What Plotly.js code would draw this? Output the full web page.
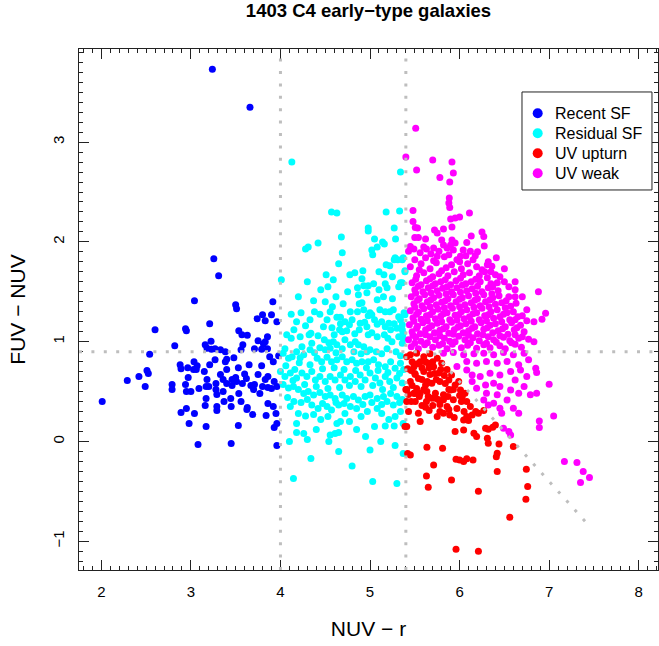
<!DOCTYPE html>
<html>
<head>
<meta charset="utf-8">
<script src="https://cdn.plot.ly/plotly-3.0.1.min.js"></script>
<style>html,body{margin:0;padding:0;background:#fff;}#chart{width:659px;height:646px;}</style>
</head>
<body>
<div id="chart"></div>
<script>
// ---- data ----
const groupNames = ["Recent SF", "Residual SF", "UV upturn", "UV weak"];
const groupColors = ["#0000FF", "#00FFFF", "#FF0000", "#FF00FF"];

const recentSF_x = [3.24,3.66,3.256,3.31,3.04,3.50,3.51,3.915,3.80,3.90,3.74,3.83,3.96,2.60,2.94,2.95,3.21,3.535,3.57,3.63,3.855,3.75,3.83,3.225,2.82,3.16,3.18,3.23,3.27,3.33,3.385,3.56,3.58,3.71,3.79,3.855,3.81,2.54,3.88,3.92,3.98,3.27,3.385,3.40,3.48,3.035,3.07,3.06,3.03,2.88,2.89,2.965,3.21,3.53,3.65,3.79,3.15,2.51,2.525,2.42,2.29,2.49,2.97,3.18,3.17,3.20,3.28,3.33,3.36,3.40,3.46,3.50,3.51,3.60,3.62,3.575,3.67,3.71,3.75,3.83,3.86,3.80,3.86,3.90,3.93,3.96,2.79,2.79,2.94,2.95,3.00,3.09,3.17,3.28,3.29,3.37,3.445,3.535,3.56,3.625,3.63,3.69,3.45,3.29,3.29,3.16,2.95,2.89,3.04,2.98,3.17,3.53,3.86,3.92,3.95,3.84,3.96,3.93,2.01,3.08,3.45,3.96,3.40,3.46,3.70,3.77,3.36];
const recentSF_y = [3.73,3.35,1.83,1.66,1.41,1.37,1.33,1.40,1.27,1.27,1.23,1.21,1.20,1.12,1.13,1.11,1.18,1.11,1.07,1.065,1.05,1.01,1.00,1.005,0.96,0.97,0.935,0.925,0.93,0.92,0.90,0.92,0.97,0.93,0.925,0.93,0.98,0.875,0.85,0.80,0.86,0.82,0.80,0.825,0.84,0.80,0.76,0.72,0.72,0.77,0.73,0.74,0.77,0.74,0.77,0.76,0.70,0.71,0.68,0.65,0.61,0.55,0.64,0.62,0.55,0.55,0.58,0.67,0.62,0.58,0.62,0.64,0.60,0.675,0.63,0.58,0.56,0.57,0.67,0.62,0.65,0.55,0.54,0.53,0.60,0.55,0.57,0.52,0.57,0.50,0.50,0.53,0.43,0.52,0.47,0.40,0.43,0.48,0.40,0.32,0.34,0.27,0.35,0.35,0.31,0.36,0.33,0.29,0.28,0.18,0.15,0.16,0.38,0.35,0.28,0.26,0.18,0.14,0.40,-0.03,-0.02,-0.04,0.72,0.56,0.52,0.48,0.50];

const residualSF_x = [4.127,5.34,4.57,4.63,5.18,5.33,4.98,4.98,5.27,4.68,4.42,4.28,4.31,5.05,5.08,5.02,5.03,5.14,5.16,5.285,4.69,5.28,5.31,5.36,5.27,5.18,5.22,5.39,4.01,4.51,4.59,4.53,4.775,4.83,4.91,4.92,5.155,4.86,4.93,4.98,5.04,5.17,5.19,5.32,5.34,
4.87,4.965,4.37,4.91,4.88,4.93,4.86,5.00,5.02,4.98,5.11,5.17,5.22,5.26,5.32,5.39,4.12,4.23,4.38,4.44,4.555,4.63,4.67,4.72,4.77,4.575,4.66,4.69,4.74,4.67,4.89,4.94,4.965,4.98,5.08,5.13,5.17,5.21,5.23,5.27,5.30,5.34,5.36,5.02,5.08,5.16,5.20,5.245,5.32,5.36,4.07,4.12,4.34,4.32,4.35,4.49,4.54,4.59,4.63,4.555,4.50,4.72,4.78,4.835,4.87,4.93,4.965,5.00,4.33,4.26,4.03,4.09,4.13,4.41,4.46,4.52,4.57,4.63,4.69,4.74,4.80,4.85,4.91,5.04,5.095,5.17,5.23,5.28,5.34,5.375,4.00,4.05,4.11,4.16,4.18,4.24,4.295,4.35,4.39,4.44,4.50,4.555,4.61,4.67,4.72,4.78,4.835,4.89,4.945,5.00,5.06,5.11,5.17,5.22,5.30,5.36,4.03,4.09,4.145,4.20,4.26,4.31,4.37,4.44,4.50,4.555,4.61,4.69,4.74,4.815,4.87,4.945,5.00,5.08,5.15,5.23,5.30,4.11,4.35,4.42,4.52,4.57,4.65,4.78,4.85,5.08,5.26,4.28,4.63,4.67,4.77,5.17,5.27,5.28,4.18,4.18,4.26,4.555,4.61,4.65,4.10,4.54,4.65,5.00,5.28,4.34,4.80,4.145,5.03,5.30,5.37,5.36,5.37,5.37,5.39,5.36,5.38,5.36,5.37,5.37,
4.06,4.14,4.21,4.27,4.33,4.40,4.47,4.53,4.60,4.66,4.71,4.77,4.84,4.90,4.96,5.03,5.09,5.14,5.20,5.26,5.33,
4.08,4.15,4.23,4.30,4.47,4.62,4.71,4.92,5.02,5.13,5.19,5.33,
4.05,4.18,4.24,4.38,4.44,4.62,4.69,4.82,4.90,5.07,5.13,5.19,5.29,5.34,4.98,4.22,
4.15,4.22,4.28,4.42,4.48,4.60,4.83,4.88,4.80,5.05,4.52,4.33,4.18,
4.20,4.37,4.45,4.53,4.72,4.90,4.97,5.13,5.21,5.34,4.40,4.85,5.05,4.95,4.30,5.12,
4.50,4.62,4.70,4.75,4.58,4.20,4.45,4.78,5.08,5.15,5.25,5.10,4.30,4.65,5.10,5.25];
const residualSF_y = [2.80,2.70,2.30,2.29,2.30,2.31,2.14,2.11,2.14,2.05,1.99,1.93,1.95,2.03,1.95,1.92,1.87,2.00,1.98,2.03,1.89,1.84,1.82,1.82,1.82,1.77,1.76,1.71,1.62,1.67,1.62,1.55,1.67,1.69,1.63,1.71,1.67,1.54,1.56,1.56,1.58,1.58,1.54,1.55,1.59,
1.47,1.49,1.41,1.39,1.38,1.32,1.30,1.29,1.27,1.26,1.32,1.30,1.30,1.32,1.25,1.27,1.275,1.29,1.30,1.275,1.30,1.245,1.245,1.20,1.17,1.14,1.12,1.10,1.11,1.18,1.185,1.195,1.15,1.07,1.175,1.20,1.15,1.185,1.12,1.18,1.135,1.22,1.12,1.09,1.05,1.07,1.035,1.00,1.05,0.985,1.07,1.035,1.085,1.07,0.985,1.02,0.99,1.00,0.97,0.935,0.92,1.02,0.97,1.00,0.97,0.95,0.90,0.92,0.92,0.87,0.885,0.835,0.85,0.835,0.80,0.845,0.80,0.82,0.85,0.80,0.82,0.785,0.80,0.82,0.77,0.75,0.80,0.735,0.785,0.72,0.70,0.65,0.685,0.72,0.635,0.685,0.65,0.70,0.615,0.65,0.60,0.65,0.615,0.665,0.615,0.65,0.60,0.665,0.615,0.685,0.635,0.585,0.65,0.60,0.635,0.585,0.57,0.535,0.55,0.52,0.48,0.50,0.465,0.49,0.45,0.465,0.43,0.465,0.43,0.45,0.415,0.45,0.465,0.43,0.45,0.48,0.45,0.35,0.365,0.33,0.35,0.315,0.365,0.35,0.33,0.33,0.365,0.255,0.18,0.20,0.20,0.155,0.155,0.25,0.18,0.09,0.08,0.065,0.08,0.09,0.00,0.00,-0.10,-0.085,-0.04,-0.17,-0.245,-0.37,-0.40,-0.42,-0.12,0.42,0.18,1.84,1.70,1.59,1.29,1.17,1.085,1.035,
0.76,0.61,0.79,0.57,0.77,0.55,0.73,0.53,0.74,0.54,0.72,0.56,0.71,0.55,0.74,0.56,0.71,0.52,0.69,0.54,0.68,
0.44,0.40,0.39,0.42,0.38,0.39,0.38,0.37,0.39,0.37,0.40,0.39,
0.93,0.90,0.95,0.89,0.94,0.89,0.93,0.90,0.88,0.90,0.88,0.93,0.90,0.86,0.80,0.84,
1.12,1.05,1.16,1.06,1.15,1.07,1.08,1.12,1.22,1.22,1.22,1.22,1.20,
0.28,0.27,0.22,0.25,0.28,0.25,0.30,0.28,0.22,0.30,0.12,0.12,0.15,0.05,0.02,0.00,
1.40,1.45,1.38,1.50,1.35,1.45,1.52,1.30,1.42,1.45,1.43,1.52,1.60,1.78,1.70,1.65];

const uvUpturn_x = [5.45,5.52,5.60,5.67,5.75,5.56,5.65,5.49,5.71,5.80,5.86,5.77,5.67,5.60,5.505,5.45,5.41,5.52,5.62,5.69,5.78,5.88,5.95,6.01,5.90,5.82,5.73,5.635,5.56,5.49,6.03,5.93,5.82,5.73,6.08,6.06,5.99,5.91,5.505,5.43,5.54,5.62,5.69,5.56,5.78,5.82,5.89,5.41,6.27,6.21,6.14,6.08,6.045,6.10,5.95,6.045,6.16,6.19,6.29,6.32,6.37,6.40,6.31,6.32,6.44,6.60,5.635,5.81,5.45,5.71,5.96,6.00,6.045,6.08,6.15,6.42,6.41,6.42,6.745,5.63,5.91,5.65,6.76,6.21,6.74,6.56,5.96,6.21,5.41,5.42,5.40,5.43,5.41,5.39,5.42,5.50,5.58,5.66,5.74,5.83,5.47,5.55,5.63,5.70,5.78,5.86,5.97,6.02,5.47,5.58,5.88,5.65,
5.53,5.62,5.70,5.46,5.54,5.64,5.72,5.79,5.84,5.93,6.00,5.87,5.76,5.60,5.50,5.46,5.58,5.66,5.75,5.88,5.94,6.12,6.18,6.05];
const uvUpturn_y = [0.87,0.885,0.85,0.88,0.835,0.80,0.785,0.75,0.75,0.785,0.72,0.685,0.67,0.70,0.67,0.60,0.52,0.53,0.567,0.584,0.60,0.617,0.567,0.517,0.517,0.467,0.483,0.50,0.483,0.483,0.45,0.417,0.417,0.433,0.40,0.483,0.60,0.667,0.40,0.30,0.283,0.343,0.433,0.20,0.30,0.283,0.266,0.15,0.31,0.283,0.266,0.25,0.216,0.21,0.10,0.116,0.082,0.05,0.132,0.122,0.142,0.166,0.032,-0.018,-0.025,-0.05,-0.058,-0.068,-0.135,-0.235,-0.179,-0.185,-0.20,-0.172,-0.185,-0.118,-0.152,-0.30,-0.279,-0.346,-0.386,-0.46,-0.45,-0.50,-0.58,-0.76,-1.08,-1.10,0.85,0.73,0.52,0.47,0.40,0.15,-0.12,0.68,0.62,0.74,0.62,0.66,0.56,0.45,0.40,0.36,0.37,0.35,0.33,0.40,0.80,0.74,0.52,0.45,
0.78,0.80,0.80,0.71,0.63,0.60,0.68,0.72,0.58,0.52,0.46,0.45,0.42,0.52,0.48,0.40,0.36,0.31,0.25,0.32,0.24,0.35,0.30,0.30];

const uvWeak_x = [5.51,5.40,5.70,5.915,5.93,5.89,5.78,5.52,5.885,5.88,5.89,5.48,6.11,5.90,5.95,6.00,5.48,5.505,5.53,5.915,5.82,5.72,5.75,6.25,6.27,6.13,5.50,5.54,5.62,5.80,5.82,5.915,5.90,5.95,6.08,6.04,6.12,6.175,6.275,6.41,5.45,5.49,5.43,5.56,5.63,5.71,5.77,5.86,5.88,5.93,6.01,5.75,
6.31,6.36,6.50,6.62,6.62,6.63,6.88,6.96,6.70,6.75,6.83,6.92,6.77,6.83,6.42,6.40,6.31,6.23,
5.46,5.54,5.61,5.70,5.77,5.86,5.92,6.02,6.09,6.19,6.27,6.34,6.45,6.51,6.62,6.69,
5.43,5.51,5.57,5.67,5.73,5.83,5.89,5.99,6.06,6.15,6.22,6.32,6.38,6.49,6.56,6.66,
5.47,5.56,5.62,5.72,5.78,5.88,5.94,6.04,6.10,6.20,6.27,6.37,6.43,6.54,6.61,6.72,
5.44,5.53,5.59,5.69,5.75,5.85,5.91,6.01,6.07,6.17,6.24,6.34,6.40,6.51,6.58,6.68,
5.48,5.57,5.63,5.73,5.79,5.89,5.95,6.05,6.11,6.22,6.28,6.38,6.45,6.56,
5.45,5.54,5.60,5.70,5.76,5.86,5.92,6.02,6.08,6.19,6.25,6.35,6.42,6.53,
5.49,5.58,5.64,5.74,5.80,5.90,5.96,6.06,6.13,6.23,6.29,6.40,6.47,6.57,
5.46,5.55,5.61,5.71,5.77,5.87,5.93,6.03,6.10,6.20,6.27,6.37,6.44,
5.50,5.59,5.65,5.75,5.81,5.91,5.97,6.08,6.14,6.25,6.32,6.43,
5.47,5.57,5.63,5.73,5.79,5.90,5.96,6.07,6.13,
5.52,5.60,5.70,5.77,5.87,5.94,6.04,6.11,6.22,
5.45,5.57,5.67,5.74,5.85,5.91,6.02,6.09,6.19,5.50,
5.62,5.71,5.83,5.97,6.07,
5.50,5.64,5.81,5.95,6.12,6.30,6.41,6.58,
5.48,5.62,5.78,5.93,6.10,6.26,6.45,6.62,
5.52,5.66,5.82,5.98,6.14,6.31,6.48,6.64,
5.49,5.64,5.80,5.97,6.13,6.30,6.47,6.62,
5.52,5.67,5.82,5.99,6.15,6.32,6.49,
5.50,5.67,5.83,6.00,6.16,6.33,6.51,
5.53,5.68,5.84,6.00,6.17,6.34,6.52,
5.51,5.68,5.85,6.01,6.18,6.36,
5.54,5.70,5.86,6.03,6.20,6.37,
5.51,5.67,5.84,6.01,6.18,6.28,6.35,
5.55,5.80,6.00,6.15,6.25,6.35,5.60,5.68,6.20,6.32,6.55,6.60,6.65,6.70,6.62,6.50,6.55,6.45,6.70,6.75,
5.82,5.93,6.045,6.16,6.27,6.38,6.49,6.60,6.72,6.08,6.19,6.30,6.42,6.53,6.66,6.77,6.85,6.86,5.97,6.14,6.23,6.34,6.45,6.57,6.62,6.38,6.29,6.45,6.57,6.19,6.30,6.42,6.53,6.38,6.45,6.27,6.60,6.66,6.32,6.47,6.49,6.55,6.57,6.79,6.86,7.00,7.05,6.89,6.89,6.08,6.68,6.75,6.14,6.66,6.72,
7.17,7.31,7.38,7.45,7.35];
const uvWeak_y = [3.14,2.85,2.82,2.80,2.69,2.60,2.645,2.72,2.44,2.39,2.345,2.315,2.29,2.23,2.24,2.25,2.205,2.145,2.14,2.15,2.13,2.12,2.09,2.10,2.055,2.06,2.045,2.045,2.03,2.02,1.97,2.02,1.97,1.99,1.995,1.92,1.905,1.86,1.96,1.84,1.955,1.93,1.905,1.89,1.93,1.94,1.905,1.94,1.87,1.92,1.855,1.855,
1.77,1.755,1.73,1.52,1.45,1.385,1.50,1.285,1.26,1.21,1.20,1.225,1.025,1.00,1.59,1.67,1.64,1.60,
0.95,0.93,0.97,0.945,0.965,0.93,0.975,0.94,0.965,0.935,0.97,0.94,0.96,0.93,0.975,0.945,
1.02,1.045,1.005,1.05,1.02,1.035,1.005,1.055,1.02,1.04,1.01,1.05,1.02,1.045,1.01,1.035,
1.10,1.08,1.12,1.09,1.115,1.085,1.12,1.09,1.11,1.08,1.125,1.09,1.11,1.075,1.12,1.10,
1.17,1.155,1.19,1.16,1.185,1.15,1.195,1.16,1.18,1.15,1.19,1.165,1.18,1.15,1.19,1.165,
1.24,1.225,1.26,1.23,1.255,1.22,1.265,1.23,1.25,1.22,1.26,1.235,1.25,1.22,
1.31,1.295,1.33,1.30,1.325,1.29,1.335,1.30,1.32,1.29,1.335,1.30,1.32,1.29,
1.38,1.36,1.40,1.37,1.395,1.36,1.40,1.37,1.39,1.36,1.40,1.375,1.39,1.355,
1.45,1.43,1.47,1.44,1.465,1.43,1.47,1.44,1.46,1.43,1.47,1.44,1.46,
1.52,1.50,1.54,1.51,1.535,1.50,1.54,1.51,1.53,1.50,1.54,1.51,
1.59,1.57,1.61,1.58,1.60,1.57,1.61,1.58,1.60,
1.66,1.69,1.65,1.68,1.66,1.70,1.67,1.69,1.66,
1.75,1.78,1.73,1.79,1.74,1.77,1.73,1.78,1.75,1.82,
1.84,1.81,1.85,1.82,1.86,
0.985,0.99,0.98,1.00,0.99,0.985,0.995,0.99,
1.065,1.07,1.06,1.075,1.065,1.07,1.06,1.07,
1.135,1.14,1.13,1.145,1.135,1.14,1.13,1.14,
1.205,1.21,1.20,1.215,1.205,1.21,1.20,1.22,
1.275,1.27,1.28,1.27,1.28,1.27,1.275,
1.345,1.35,1.34,1.35,1.345,1.35,1.34,
1.415,1.42,1.41,1.425,1.415,1.42,1.41,
1.485,1.49,1.48,1.495,1.485,1.48,
1.555,1.56,1.55,1.565,1.555,1.55,
1.625,1.63,1.62,1.635,1.625,1.70,1.58,
1.72,1.71,1.80,1.82,1.72,1.70,1.95,1.88,1.90,1.80,1.45,1.30,1.25,1.05,1.60,1.60,1.55,1.65,1.45,1.32,
0.885,0.891,0.868,0.878,0.885,0.868,0.891,0.868,0.885,0.801,0.784,0.801,0.784,0.801,0.768,0.818,0.734,0.691,0.751,0.667,0.65,0.684,0.667,0.701,0.617,0.584,0.567,0.55,0.517,0.533,0.483,0.467,0.416,0.383,0.333,0.416,0.333,0.283,0.366,0.283,0.132,0.099,0.065,0.467,0.483,0.574,0.256,0.206,0.139,0.717,0.717,0.65,0.60,0.483,0.55,
-0.20,-0.21,-0.30,-0.36,-0.41];

// reference lines
const xCuts = [4, 5.4];
const yCut = 0.9;
const diagStart = [7.4, -0.8];
const diagEnd = [5.7, 0.9];

const xTickVals = [2, 3, 4, 5, 6, 7, 8];
const yTickVals = [-1, 0, 1, 2, 3];

// ---- figure ----
const FONT = "Liberation Sans, Arial, Helvetica, sans-serif";
const MS = 7;
function pts(x, y, i) {
  return {type: "scatter", mode: "markers", x: x, y: y, name: groupNames[i], showlegend: false, hoverinfo: "skip",
    marker: {color: groupColors[i], size: MS, line: {width: 0}}};
}
const traces = [
  pts(recentSF_x, recentSF_y, 0),
  pts(residualSF_x, residualSF_y, 1),
  pts(uvWeak_x, uvWeak_y, 3),
  pts(uvUpturn_x, uvUpturn_y, 2)
];

const dotLine = {color: "#BEBEBE", width: 3, dash: "3px,9.4px"};
const shapes = [];
xCuts.forEach(v => shapes.push({type: "line", layer: "above", xref: "x", yref: "paper", x0: v, x1: v, y0: 0, y1: 1, line: dotLine}));
shapes.push({type: "line", layer: "above", xref: "paper", yref: "y", x0: 0, x1: 1, y0: yCut, y1: yCut, line: dotLine});
shapes.push({type: "line", layer: "above", xref: "x", yref: "y", x0: diagStart[0], y0: diagStart[1], x1: diagEnd[0], y1: diagEnd[1], line: dotLine});

// legend box drawn as shapes + annotations (paper coordinates)
const annotations = [];
shapes.push({type: "rect", layer: "above", xref: "paper", yref: "paper", x0: 0.7651, x1: 0.9896, y0: 0.7294, y1: 0.9175,
  line: {color: "#222", width: 1}, fillcolor: "#fff"});
const legRowY = [0.8766, 0.8382, 0.7998, 0.7614];
groupNames.forEach((n, i) => {
  shapes.push({type: "circle", layer: "above", xref: "paper", yref: "paper", xsizemode: "pixel", ysizemode: "pixel",
    xanchor: 0.7922, yanchor: legRowY[i], x0: -5, x1: 5, y0: -5, y1: 5,
    fillcolor: groupColors[i], line: {width: 0}});
  annotations.push({xref: "paper", yref: "paper", x: 0.8187, y: legRowY[i], xanchor: "left", yanchor: "middle",
    text: n, showarrow: false, font: {family: FONT, size: 16, color: "#000"}});
});

const axisCommon = {
  showgrid: false, zeroline: false, showline: true, linecolor: "#222", linewidth: 1,
  mirror: "ticks", ticks: "inside", ticklen: 10, tickwidth: 1, tickcolor: "#222",
  tickfont: {family: FONT, size: 15, color: "#000"},
  minor: {dtick: 0.1, ticks: "inside", ticklen: 4, tickwidth: 1, tickcolor: "#222", showgrid: false}
};

const layout = {
  width: 659, height: 646,
  margin: {l: 79, r: 1, t: 49, b: 76},
  paper_bgcolor: "#fff", plot_bgcolor: "#fff",
  font: {family: FONT, color: "#000"},
  title: {text: "<b>1403 C4 early−type galaxies</b>", font: {family: FONT, size: 18.5, color: "#000"},
    xref: "paper", x: 0.5, xanchor: "center", yref: "container", y: 0.983, yanchor: "middle"},
  xaxis: Object.assign({}, axisCommon, {
    range: [1.751, 8.215], tickvals: xTickVals, ticktext: xTickVals.map(String), ticklabelstandoff: 8,
    title: {text: "NUV − r", font: {family: FONT, size: 21, color: "#000"}, standoff: 22}
  }),
  yaxis: Object.assign({}, axisCommon, {
    range: [-1.288, 3.933], tickvals: yTickVals, ticktext: yTickVals.map(v => v < 0 ? "−" + Math.abs(v) : String(v)),
    tickangle: -90, ticklabelstandoff: 8,
    title: {text: "FUV − NUV", font: {family: FONT, size: 21, color: "#000"}, standoff: 18}
  }),
  shapes: shapes,
  annotations: annotations,
  showlegend: false
};

Plotly.newPlot("chart", traces, layout, {displayModeBar: false, staticPlot: true});
</script>
</body>
</html>
